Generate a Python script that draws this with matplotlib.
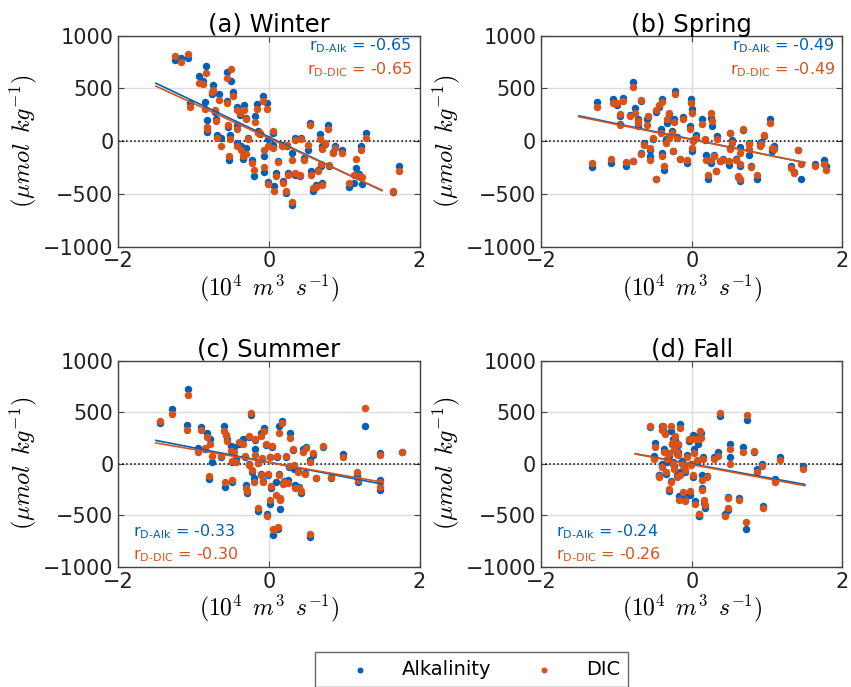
import numpy as np
import matplotlib
matplotlib.use("Agg")
import matplotlib.pyplot as plt

plt.rcParams['font.family'] = ['DejaVu Sans']
plt.rcParams['mathtext.fontset'] = 'cm'

BLUE = '#0060B8'
ORANGE = '#D95319'

# Winter: discharge anomaly (10^4 m3/s) and Alk / DIC anomalies (umol/kg)
win_x = [-1.25, -1.17, -1.07, -1.05, -0.93, -0.88, -0.84, -0.85, -0.82, -0.82, -0.74, -0.76, -0.66, -0.69, -0.70,
         -0.72, -0.63, -0.56, -0.51, -0.54, -0.55, -0.52, -0.53, -0.48, -0.43, -0.42, -0.42, -0.39, -0.37, -0.33,
         -0.35, -0.30, -0.31, -0.28, -0.23, -0.20, -0.19, -0.16, -0.15, -0.12, -0.08, -0.07, -0.07, -0.03, -0.01,
         -0.01, 0.05, 0.06, 0.07, 0.10, 0.12, 0.18, 0.19, 0.23, 0.24, 0.26, 0.30, 0.30, 0.34, 0.35, 0.41, 0.43,
         0.46, 0.52, 0.55, 0.56, 0.58, 0.62, 0.65, 0.68, 0.69, 0.70, 0.71, 0.75, 0.78, 0.80, 0.85, 0.88, 0.97,
         1.06, 1.13, 1.15, 1.20, 1.22, 1.24, 1.29, 1.65, 1.73]
win_alk = [774, 787, 790, 366, 615, 573, 710, 373, 200, 86, 532, 450, 443, 54, 213,
           280, 32, 653, 570, 137, 382, 54, -182, 468, 328, 150, -16, 252, -48, 341,
           -169, -64, 223, 32, -175, -328, 239, 350, 96, 64, 424, -143, -290, 366, 16,
           -390, 80, -32, -424, -302, -185, -32, -380, -487, -50, -305, -111, -605, -318, 29, -334, 32,
           -160, -80, 175, -286, -468, -420, -270, 64, -239, -400, -48, -30, 150, -240, -100, -41, -86,
           -430, -398, -255, -315, -41, -404, 80, -481, -239]
win_dic = [806, 748, 828, 328, 551, 541, 646, 303, 137, 111, 487, 462, 392, 32, 194,
           296, -41, 596, 685, 150, 366, 16, -137, 424, 296, 118, -48, 264, -80, 296,
           -137, -118, 207, 16, -207, -271, 182, 309, 80, 80, 382, -80, -245, 303, -41,
           -404, 96, -64, -468, -328, -200, -48, -392, -468, -40, -318, -175, -573, -302, 10, -318, 22,
           -175, -32, 150, -318, -445, -430, -286, 22, -213, -414, -73, -20, 111, -225, -111, -60, -111,
           -398, -318, -169, -328, -86, -341, 32, -475, -287]

# Spring
spr_x = [-1.33, -1.26, -1.08, -1.05, -1.00, -0.96, -0.95, -0.91, -0.87, -0.82, -0.78, -0.76, -0.78, -0.72, -0.71,
         -0.68, -0.67, -0.64, -0.60, -0.58, -0.56, -0.55, -0.52, -0.48, -0.47, -0.43, -0.41, -0.40, -0.39, -0.37,
         -0.35, -0.33, -0.31, -0.30, -0.27, -0.25, -0.24, -0.22, -0.20, -0.16, -0.12, -0.07, -0.03, -0.01, 0.00,
         0.00, 0.02, 0.05, 0.13, 0.17, 0.19, 0.21, 0.25, 0.27, 0.25, 0.29, 0.32, 0.34, 0.37, 0.42, 0.49, 0.50,
         0.51, 0.53, 0.58, 0.61, 0.64, 0.64, 0.64, 0.68, 0.76, 0.76, 0.79, 0.86, 0.90, 0.92, 0.96, 1.04, 1.07,
         1.09, 1.31, 1.36, 1.41, 1.45, 1.64, 1.76, 1.78]
spr_alk = [-245, 373, -207, 404, 341, 239, 160, 411, -232, 245, 557, 318, -185, 207, 143,
           380, -110, -16, 207, 230, -80, -137, 16, 277, -355, 328, 111, -111, 398, -277,
           16, 175, 40, 255, 96, -90, 213, 478, 40, -169, 232, -207, 143, 404, 309,
           -96, 10, 54, 207, 15, -127, -360, 223, 143, -207, -135, -280, 48, -185, -170, -223, 75,
           -60, 10, -170, -340, -382, -57, -239, 110, -127, -20, -240, -360, -22, -10, 50, 207, -96,
           -41, -232, -295, -80, -360, -213, -182, -232]
spr_dic = [-207, 328, -169, 360, 366, 255, 150, 385, -200, 239, 516, 271, -191, 188, 175,
           389, -118, -32, 150, 239, -64, -182, 32, 296, -360, 347, 80, -143, 372, -239,
           -22, 207, 32, 271, 80, -96, 182, 446, 32, -169, 207, -182, 111, 360, 271,
           -64, 0, 32, 159, 22, -175, -322, 264, 191, -182, -143, -287, 22, -191, -175, -191, 80,
           -70, -16, -175, -330, -360, -111, -213, 118, -73, -30, -245, -322, -48, -30, 54, 169, -64,
           -73, -255, -302, -86, -213, -232, -213, -271]

# Summer
sum_x = [-1.44, -1.29, -1.07, -1.09, -0.94, -0.90, -0.85, -0.82, -0.78, -0.79, -0.75, -0.63, -0.60, -0.57, -0.58,
         -0.55, -0.51, -0.49, -0.49, -0.46, -0.44, -0.40, -0.34, -0.32, -0.31, -0.29, -0.27, -0.26, -0.24, -0.22,
         -0.20, -0.19, -0.18, -0.15, -0.14, -0.11, -0.10, -0.09, -0.08, -0.06, -0.04, -0.02, -0.01, 0.01, 0.01,
         0.03, 0.04, 0.05, 0.09, 0.11, 0.12, 0.13, 0.13, 0.15, 0.15, 0.18, 0.19, 0.20, 0.23, 0.28, 0.27, 0.26,
         0.32, 0.33, 0.35, 0.38, 0.40, 0.42, 0.45, 0.48, 0.49, 0.54, 0.54, 0.59, 0.63, 0.72, 0.83, 0.99, 1.17,
         1.18, 1.27, 1.48, 1.48, 1.48, 1.77]
sum_alk = [396, 528, 728, 377, 149, 354, 140, 294, 237, -152, 16, 65, 364, 275, -222,
           237, 174, 15, -174, 158, 47, 195, 237, 70, -206, -280, -5, 260, 475, -79,
           -142, 142, 230, -459, 5, 301, -100, 45, -165, 342, 180, -490, -110, 63, -389,
           -237, 165, -696, -174, 70, -633, 364, -100, -443, -340, 411, -190, -165, 70, 294, -30, -158,
           135, -47, -206, -70, -230, -285, 142, -90, 160, 32, -712, 80, -135, 165, -135, 95, -117,
           -180, 364, 104, -253, -158, 111]
sum_dic = [418, 484, 671, 332, 111, 332, 149, 263, 190, -120, 79, 73, 316, 280, -180,
           222, 127, 22, -160, 111, 16, 206, 190, 79, -237, -262, -16, 269, 490, -63,
           -174, 85, 237, -427, 10, 269, -110, 54, -174, 316, 190, -506, -100, 70, -348,
           -212, 174, -633, -300, 79, -617, 301, -111, -348, -330, 396, -200, -174, 79, 253, -22, -190,
           142, -16, -237, -79, -237, -262, 117, -95, 150, 16, -680, 100, -142, 174, -130, 63, -85,
           -158, 544, 85, -222, -174, 117]

# Fall
fal_x = [-0.56, -0.50, -0.49, -0.44, -0.43, -0.40, -0.38, -0.37, -0.36, -0.34, -0.33, -0.30, -0.28, -0.28, -0.27,
         -0.24, -0.24, -0.22, -0.20, -0.19, -0.17, -0.16, -0.16, -0.13, -0.12, -0.10, -0.09, -0.07, -0.04, -0.03,
         0.02, 0.02, 0.03, 0.04, 0.07, 0.08, 0.09, 0.11, 0.12, 0.13, 0.15, 0.13, 0.16, 0.18, 0.09, 0.20,
         0.30, 0.35, 0.38, 0.44, 0.48, 0.48, 0.50, 0.50, 0.62, 0.68, 0.73, 0.72, 0.83, 0.86, 0.93, 0.94, 1.11,
         1.17, 1.48, -0.31, -0.25, -0.18, -0.09, -0.01, -0.20, -0.40, -0.25]
fal_alk = [360, 79, 199, -111, -105, 370, 355, 142, 300, -95, 16, -262, 315, -170, 190,
           135, -22, 235, 95, 180, -316, 386, -85, 30, -295, -40, -348, 80, 220, -300,
           275, -125, 140, -364, 20, 190, -506, 300, 295, -110, 63, -240, -380, -427, -506, -120,
           63, 111, 465, -490, -452, -320, 190, 63, -332, 158, 421, -633, 111, -47, 0, -411, -149,
           63, -22, 79, 15, 110, -80, 0, -110, 0, 237]
fal_dic = [364, 41, 158, -127, -120, 332, 364, 117, 285, -85, 47, -250, 364, -180, 190,
           142, -47, 270, 110, 190, -348, 348, -110, 0, -270, -20, -364, 65, 240, -269,
           244, -110, 105, -389, 40, 240, -490, 320, 253, -155, 41, -253, -348, -396, -490, -127,
           41, 79, 490, -506, -430, -332, 142, 0, -348, 117, 475, -570, 127, -79, -22, -433, -180,
           32, -47, 104, 0, 80, -60, -15, -125, -30, 206]

titles = ['(a) Winter', '(b) Spring', '(c) Summer', '(d) Fall']
r_alk = ['-0.65', '-0.49', '-0.33', '-0.24']
r_dic = ['-0.65', '-0.49', '-0.30', '-0.26']
fit_range = [(-1.5, 1.5), (-1.5, 1.5), (-1.5, 1.5), (-0.75, 1.5)]
label_top = [True, True, False, False]

seasons = [(win_x, win_alk, win_dic), (spr_x, spr_alk, spr_dic),
           (sum_x, sum_alk, sum_dic), (fal_x, fal_alk, fal_dic)]

fig = plt.figure(figsize=(8.51, 6.87), dpi=100)
boxes = [[0.139, 0.641, 0.354, 0.307], [0.636, 0.641, 0.354, 0.307],
         [0.139, 0.175, 0.354, 0.300], [0.636, 0.175, 0.354, 0.300]]

for i, (x, alk, dic) in enumerate(seasons):
    ax = fig.add_axes(boxes[i])
    x = np.array(x)
    alk = np.array(alk)
    dic = np.array(dic)
    ax.grid(True, color='#dcdcdc', linewidth=1)
    ax.set_axisbelow(True)
    ax.axhline(0, color='black', linestyle=':', linewidth=1.1, zorder=1)
    ax.scatter(x, alk, s=19, color=BLUE, zorder=3, label='Alkalinity')
    ax.scatter(x, dic, s=19, color=ORANGE, zorder=4, label='DIC')

    # least-squares lines over the plotted span
    xl = np.array(fit_range[i])
    pa = np.polyfit(x, alk, 1)
    pd_ = np.polyfit(x, dic, 1)
    ax.plot(xl, np.polyval(pa, xl), color=BLUE, linewidth=1.2, zorder=5)
    ax.plot(xl, np.polyval(pd_, xl), color=ORANGE, linewidth=1.2, zorder=5)

    ax.set_xlim(-2, 2)
    ax.set_ylim(-1000, 1000)
    ax.set_xticks([-2, 0, 2])
    ax.set_yticks([-1000, -500, 0, 500, 1000])
    ax.tick_params(direction='in', top=True, right=True, labelsize=15, length=4,
                   color='#444444', labelcolor='#222222')
    for sp in ax.spines.values():
        sp.set_color('#444444')
        sp.set_linewidth(1.0)
    ax.set_title(titles[i], fontsize=17.5, pad=3)
    ax.set_xlabel(r'$(10^4\ \, m^3\ \, s^{-1})$', fontsize=17, labelpad=1)
    ax.set_ylabel(r'$(\mu mol\ \, kg^{-1})$', fontsize=17.5, labelpad=3)

    alk_txt = r'r$_{\mathregular{D\text{-}Alk}}$ = ' + r_alk[i]
    dic_txt = r'r$_{\mathregular{D\text{-}DIC}}$ = ' + r_dic[i]
    if label_top[i]:
        ax.text(0.975, 0.995, alk_txt, transform=ax.transAxes, ha='right', va='top',
                color=BLUE, fontsize=11.5, math_fontfamily='dejavusans')
        ax.text(0.975, 0.885, dic_txt, transform=ax.transAxes, ha='right', va='top',
                color=ORANGE, fontsize=11.5, math_fontfamily='dejavusans')
    else:
        ax.text(0.05, 0.125, alk_txt, transform=ax.transAxes, ha='left', va='bottom',
                color=BLUE, fontsize=11.5, math_fontfamily='dejavusans')
        ax.text(0.05, 0.015, dic_txt, transform=ax.transAxes, ha='left', va='bottom',
                color=ORANGE, fontsize=11.5, math_fontfamily='dejavusans')
    if i == 0:
        handles, labels = ax.get_legend_handles_labels()

leg = fig.legend(handles, labels, loc='upper center', bbox_to_anchor=(0.554, 0.051), ncol=2,
                 fontsize=14, frameon=True, fancybox=False, edgecolor='#444444',
                 markerscale=0.75, columnspacing=0.8, handletextpad=0.25, borderpad=0.4,
                 handlelength=3.8, borderaxespad=0.0)
leg.get_frame().set_linewidth(1.0)

fig.savefig('out.png', dpi=100)
